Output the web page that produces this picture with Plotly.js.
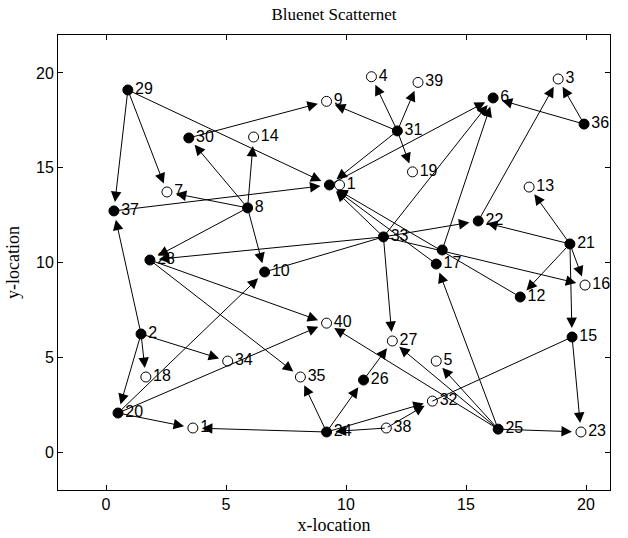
<!DOCTYPE html>
<html>
<head>
<meta charset="utf-8">
<script src="https://cdn.plot.ly/plotly-3.0.1.min.js"></script>
<style>html,body{margin:0;padding:0;background:#fff;}#chart{width:628px;height:538px;}</style>
</head>
<body>
<div id="chart"></div>
<script>
// Node ids, labels (as visible), positions and type (filled = true)
const nodeIds = ['29','30','14','9','4','39','31','19','6','3','36','13','22','21','33','H','1','N','17','12','16','15','23','25','32','38','24','26','27','5','40','35','34','2','18','20','1b','10','28','8','7','37'];
const nodeLabels = ['29','30','14','9','4','39','31','19','6','3','36','13','22','21','33','','1','','17','12','16','15','23','25','32','38','24','26','27','5','40','35','34','2','18','20','1','10','28','8','7','37'];
const nodeX = [0.91,3.45,6.15,9.19,11.06,13.0,12.14,12.77,16.13,18.84,19.92,17.63,15.51,19.33,11.56,9.31,9.73,14.01,13.76,17.26,19.96,19.42,19.79,16.34,13.6,11.68,9.19,10.73,11.93,13.76,9.19,8.1,5.07,1.46,1.66,0.5,3.62,6.61,1.83,5.9,2.54,0.33];
const nodeY = [19.1,16.57,16.62,18.5,19.8,19.5,16.94,14.78,18.68,19.68,17.3,13.98,12.19,10.98,11.35,14.09,14.09,10.66,9.92,8.18,8.81,6.07,1.06,1.21,2.69,1.27,1.06,3.8,5.86,4.8,6.8,3.96,4.8,6.23,3.96,2.06,1.27,9.5,10.13,12.88,13.72,12.72];
const nodeFilled = [true,true,false,false,false,false,true,false,true,false,true,false,true,true,true,true,false,true,true,true,false,true,false,true,false,false,true,true,false,false,false,false,false,true,false,true,false,true,true,true,false,true];

// Directed links: from -> to
const edgeFrom = ['29','29','29','30','8','8','8','37','8','8','2','31','31','31','31','31','H','33','N','36','36','22','21','21','21','21','21','15','25','25','25','25','25','24','38','38','24','26','24','28','28','20','2','2','2','20','24','20','33','33','33','33','17','12','33'];
const edgeTo   = ['37','7','H','9','30','14','7','H','28','10','37','9','4','39','19','H','6','6','6','6','3','3','13','22','12','16','15','23','23','17','5','27','40','32','32','24','26','27','35','35','40','40','34','18','20','1b','1b','10','28','22','27','H','H','H','16'];
// Undirected links
const lineFrom = ['10','15'];
const lineTo   = ['33','32'];

const idx = id => nodeIds.indexOf(id);
const annotations = [];
for (let i = 0; i < edgeFrom.length; i++) {
  const a = idx(edgeFrom[i]), b = idx(edgeTo[i]);
  annotations.push({x: nodeX[b], y: nodeY[b], ax: nodeX[a], ay: nodeY[a],
    xref:'x', yref:'y', axref:'x', ayref:'y', text:'', showarrow:true,
    arrowhead:2, arrowsize:2.1, arrowwidth:1, arrowcolor:'#000', standoff:9});
}
for (let i = 0; i < lineFrom.length; i++) {
  const a = idx(lineFrom[i]), b = idx(lineTo[i]);
  annotations.push({x: nodeX[b], y: nodeY[b], ax: nodeX[a], ay: nodeY[a],
    xref:'x', yref:'y', axref:'x', ayref:'y', text:'', showarrow:true,
    arrowhead:0, arrowwidth:1, arrowcolor:'#000'});
}

const trace = {
  x: nodeX, y: nodeY, text: nodeLabels, mode: 'markers+text', type: 'scatter',
  textposition: 'middle right',
  textfont: {family: 'Liberation Sans, Arial, sans-serif', size: 16, color: '#000'},
  marker: {
    size: 10, opacity: 1,
    color: nodeFilled.map(f => f ? '#000000' : '#ffffff'),
    line: {color: '#000000', width: 1}
  },
  opacity: 1,
  hoverinfo: 'none', cliponaxis: false
};

const axisBase = {
  showgrid:false, zeroline:false, showline:true, linecolor:'#000', linewidth:1,
  mirror:'ticks', ticks:'inside', ticklen:5, tickcolor:'#000',
  tickfont:{family:'Liberation Sans, Arial, sans-serif', size:16, color:'#000'},
  tickvals:[0,5,10,15,20], fixedrange:true
};

const layout = {
  width:628, height:538,
  margin:{l:58, r:18, t:35, b:48},
  paper_bgcolor:'#fff', plot_bgcolor:'#fff',
  showlegend:false,
  title:{text:'Bluenet Scatternet', font:{family:'Liberation Serif, Times New Roman, serif', size:17, color:'#000'},
         x:0.5, xref:'paper', y:1-14/538, yref:'container', yanchor:'middle'},
  xaxis: Object.assign({}, axisBase, {range:[-2,21],
    title:{text:'x-location', font:{family:'Liberation Serif, Times New Roman, serif', size:18, color:'#000'}, standoff:6}}),
  yaxis: Object.assign({}, axisBase, {range:[-2,22],
    title:{text:'y-location', font:{family:'Liberation Serif, Times New Roman, serif', size:18, color:'#000'}, standoff:11}}),
  annotations: annotations
};

Plotly.newPlot('chart', [trace], layout, {displayModeBar:false, staticPlot:true});
</script>
</body>
</html>
